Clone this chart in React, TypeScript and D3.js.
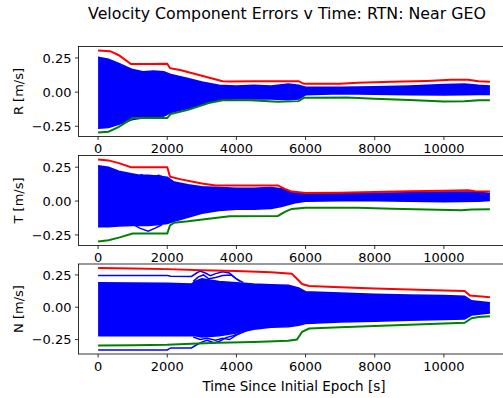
import React from "react";
import * as d3 from "d3";

// ---------- data ----------
const xTicks = [0, 2000, 4000, 6000, 8000, 10000];
const yTicks = [-0.25, 0, 0.25];
const panelLabels = ["R [m/s]", "T [m/s]", "N [m/s]"];

// R component
const rTime = [0, 300, 600, 1000, 1300, 1600, 1900, 2100, 2600, 3000, 3500, 4000, 4500, 5000, 5500, 5800, 6000, 7000, 8000, 9000, 10000, 10600, 11000, 11330];
const rBlueHi = [0.255, 0.24, 0.21, 0.165, 0.15, 0.155, 0.15, 0.13, 0.1, 0.075, 0.05, 0.045, 0.05, 0.045, 0.06, 0.05, 0.035, 0.035, 0.04, 0.045, 0.055, 0.06, 0.05, 0.045];
const rBlueLo = [-0.265, -0.26, -0.235, -0.2, -0.19, -0.18, -0.175, -0.15, -0.12, -0.09, -0.055, -0.05, -0.048, -0.05, -0.055, -0.05, -0.02, -0.012, -0.015, -0.02, -0.022, -0.02, -0.018, -0.017];
const rRed = [[0, 0.304], [350, 0.3], [600, 0.27], [950, 0.205], [1500, 0.205], [2000, 0.207], [2080, 0.175], [2400, 0.16], [3000, 0.12], [3600, 0.08], [3800, 0.077], [4500, 0.08], [5800, 0.08], [5950, 0.061], [7000, 0.062], [7500, 0.068], [8500, 0.075], [9500, 0.082], [10200, 0.09], [10700, 0.09], [11000, 0.08], [11330, 0.076]];
const rGreen = [[0, -0.295], [300, -0.29], [600, -0.255], [1000, -0.19], [2000, -0.19], [2100, -0.16], [2600, -0.13], [3200, -0.08], [3600, -0.06], [4400, -0.06], [5200, -0.07], [5800, -0.066], [5950, -0.042], [7200, -0.04], [8000, -0.048], [9000, -0.058], [10000, -0.068], [10600, -0.066], [11000, -0.06], [11330, -0.06]];
const rOutliers = [
  [[1400, -0.15], [1600, -0.16], [1750, -0.17], [1880, -0.175], [1980, -0.165], [2100, -0.14]],
  [[1100, 0.13], [1240, 0.148], [1400, 0.13], [1600, 0.14], [1800, 0.135], [2000, 0.12]],
];

// T component
const tTime = [0, 300, 600, 1000, 1200, 1450, 1700, 2000, 2200, 2600, 3000, 3500, 4000, 4500, 5000, 5300, 5700, 6000, 7000, 8000, 9000, 10000, 11000, 11330];
const tBlueHi = [0.26, 0.25, 0.22, 0.2, 0.19, 0.19, 0.185, 0.175, 0.14, 0.12, 0.105, 0.1, 0.095, 0.095, 0.1, 0.09, 0.06, 0.055, 0.055, 0.058, 0.062, 0.066, 0.066, 0.056];
const tBlueLo = [-0.19, -0.19, -0.185, -0.18, -0.18, -0.18, -0.175, -0.165, -0.15, -0.12, -0.09, -0.07, -0.06, -0.06, -0.055, -0.04, -0.012, -0.002, 0.002, 0.002, -0.002, -0.006, -0.002, 0.004];
const tRed = [[0, 0.306], [300, 0.3], [600, 0.28], [950, 0.25], [2000, 0.25], [2080, 0.18], [2400, 0.16], [3000, 0.13], [3400, 0.115], [5200, 0.115], [5400, 0.09], [5600, 0.07], [6000, 0.06], [7000, 0.062], [8000, 0.066], [9000, 0.072], [10000, 0.076], [10700, 0.08], [10900, 0.072], [11330, 0.07]];
const tGreen = [[0, -0.298], [300, -0.29], [600, -0.27], [1000, -0.24], [2000, -0.24], [2080, -0.18], [2200, -0.16], [2600, -0.15], [3200, -0.13], [3800, -0.113], [5200, -0.11], [5400, -0.08], [5600, -0.058], [6000, -0.05], [7500, -0.05], [8500, -0.056], [9500, -0.062], [10500, -0.068], [10800, -0.062], [11330, -0.06]];
const tOutliers = [
  [[1000, -0.17], [1200, -0.2], [1450, -0.222], [1650, -0.2], [1850, -0.175]],
  [[1100, 0.17], [1250, 0.195], [1400, 0.175], [1600, 0.18], [1750, 0.19], [1950, 0.17]],
];

// N component
const nTime = [0, 2000, 2700, 2800, 3000, 3500, 4000, 4500, 5000, 5500, 5800, 6000, 7000, 8000, 9000, 10000, 10600, 10800, 11330];
const nBlueHi = [0.19, 0.185, 0.18, 0.2, 0.22, 0.2, 0.19, 0.18, 0.175, 0.17, 0.15, 0.12, 0.11, 0.1, 0.095, 0.09, 0.085, 0.05, 0.035];
const nBlueLo = [-0.22, -0.22, -0.22, -0.22, -0.23, -0.22, -0.2, -0.17, -0.155, -0.15, -0.14, -0.125, -0.115, -0.108, -0.1, -0.095, -0.09, -0.06, -0.045];
const nRed = [[0, 0.303], [1000, 0.3], [2000, 0.295], [3000, 0.287], [4000, 0.28], [5000, 0.27], [5600, 0.26], [5750, 0.22], [5900, 0.18], [6100, 0.165], [7000, 0.155], [8000, 0.145], [9000, 0.137], [10000, 0.13], [10600, 0.125], [10750, 0.09], [11000, 0.085], [11330, 0.078]];
const nGreen = [[0, -0.295], [1000, -0.293], [2000, -0.29], [2700, -0.283], [3500, -0.275], [4500, -0.268], [5500, -0.26], [5750, -0.25], [5900, -0.19], [6100, -0.165], [7000, -0.155], [8000, -0.145], [9000, -0.135], [10000, -0.125], [10600, -0.12], [10800, -0.085], [11000, -0.075], [11330, -0.07]];
const nOutliers = [
  [[0, 0.245], [2000, 0.245], [2100, 0.24], [2700, 0.238], [2850, 0.265], [2950, 0.28], [3100, 0.265], [3250, 0.245], [3400, 0.26], [3600, 0.275], [3800, 0.265], [3950, 0.23], [4100, 0.2]],
  [[2750, 0.2], [2900, 0.235], [3050, 0.25], [3200, 0.22], [3400, 0.23], [3600, 0.245], [3850, 0.25], [4000, 0.22], [4200, 0.19]],
  [[0, -0.33], [2000, -0.33], [2100, -0.315], [2700, -0.315], [2850, -0.29], [3000, -0.27], [3150, -0.255], [3350, -0.275], [3500, -0.265], [3700, -0.235], [3900, -0.22], [4100, -0.2]],
  [[2750, -0.23], [2950, -0.25], [3150, -0.24], [3400, -0.255], [3600, -0.24], [3800, -0.25], [4000, -0.215], [4300, -0.18]],
];

// ---------- layout ----------
const W = 503;
const H = 398;
const axLeft = 78.5;
const axRight = 509.5;
const panelTops = [46.5, 155.5, 264];
const panelH = 90;
const FONT = "DejaVu Sans, sans-serif";

const panels = [
  { label: panelLabels[0], time: rTime, hi: rBlueHi, lo: rBlueLo, red: rRed, green: rGreen, outliers: rOutliers },
  { label: panelLabels[1], time: tTime, hi: tBlueHi, lo: tBlueLo, red: tRed, green: tGreen, outliers: tOutliers },
  { label: panelLabels[2], time: nTime, hi: nBlueHi, lo: nBlueLo, red: nRed, green: nGreen, outliers: nOutliers },
];

const tMax = d3.max(panels, (p) => d3.max(p.time)) as number;
const xPad = tMax * 0.05;
const x = d3.scaleLinear().domain([-xPad, tMax + xPad]).range([axLeft, axRight]);

const fmtY = (v: number) => (v < 0 ? "\u2212" : "") + Math.abs(v).toFixed(2);

function Panel({ p, top }: any) {
  const all: number[] = [
    ...p.hi, ...p.lo,
    ...p.red.map((d: number[]) => d[1]),
    ...p.green.map((d: number[]) => d[1]),
    ...p.outliers.flat().map((d: number[]) => d[1]),
  ];
  const lo = d3.min(all) as number;
  const hi = d3.max(all) as number;
  const pad = (hi - lo) * 0.05;
  const y = d3.scaleLinear().domain([lo - pad, hi + pad]).range([top + panelH, top]);

  const band = d3.area<number>()
    .x((_, i) => x(p.time[i]))
    .y0((_, i) => y(p.lo[i]))
    .y1((_, i) => y(p.hi[i]));
  const edgeHi = d3.line<number>().x((_, i) => x(p.time[i])).y((_, i) => y(p.hi[i]));
  const edgeLo = d3.line<number>().x((_, i) => x(p.time[i])).y((_, i) => y(p.lo[i]));
  const line = d3.line<number[]>().x((d) => x(d[0])).y((d) => y(d[1]));
  const clipId = "clip" + Math.round(top);
  const bottom = top + panelH;

  return (
    <g>
      <defs>
        <clipPath id={clipId}>
          <rect x={axLeft} y={top} width={axRight - axLeft} height={panelH} />
        </clipPath>
      </defs>
      <g clipPath={`url(#${clipId})`}>
        <path d={band(p.hi) as string} fill="#0000ff" stroke="none" />
        <path d={edgeHi(p.hi) as string} fill="none" stroke="#0000ff" strokeWidth={1.5} />
        <path d={edgeLo(p.lo) as string} fill="none" stroke="#0000ff" strokeWidth={1.5} />
        {p.outliers.map((o: number[][], i: number) => (
          <path key={i} d={line(o) as string} fill="none" stroke="#0000ff" strokeWidth={1.5} />
        ))}
        <path d={line(p.red) as string} fill="none" stroke="#ff0000" strokeWidth={2} />
        <path d={line(p.green) as string} fill="none" stroke="#008000" strokeWidth={2} />
      </g>
      <rect x={axLeft} y={top} width={axRight - axLeft} height={panelH} fill="none" stroke="#000" strokeWidth={0.8} />
      {yTicks.map((t) => (
        <g key={t}>
          <line x1={axLeft - 3.5} x2={axLeft} y1={y(t)} y2={y(t)} stroke="#000" strokeWidth={0.8} />
          <text x={axLeft - 7} y={y(t)} dy="0.36em" textAnchor="end" fontSize={13} fontFamily={FONT} fill="#000">
            {fmtY(t)}
          </text>
        </g>
      ))}
      {xTicks.map((t) => (
        <g key={t}>
          <line x1={x(t)} x2={x(t)} y1={bottom} y2={bottom + 3.5} stroke="#000" strokeWidth={0.8} />
          <text x={x(t)} y={bottom + 7} dy="0.76em" textAnchor="middle" fontSize={13} fontFamily={FONT} fill="#000">
            {t}
          </text>
        </g>
      ))}
      <text
        transform={`translate(${18},${top + panelH / 2}) rotate(-90)`}
        dy="0.36em"
        textAnchor="middle"
        fontSize={13}
        fontFamily={FONT}
        fill="#000"
      >
        {p.label}
      </text>
    </g>
  );
}

export default function App() {
  return (
    <svg width={W} height={H} style={{ display: "block", position: "absolute", left: 0, top: 0, background: "#fff" }}>
      <rect width={W} height={H} fill="#fff" />
      {panels.map((p, i) => (
        <Panel key={i} p={p} top={panelTops[i]} />
      ))}
      <text x={287} y={18.5} textAnchor="middle" fontSize={15.8} fontFamily={FONT} fill="#000">
        Velocity Component Errors v Time: RTN: Near GEO
      </text>
      <text x={(axLeft + axRight) / 2} y={391} textAnchor="middle" fontSize={13.5} fontFamily={FONT} fill="#000">
        Time Since Initial Epoch [s]
      </text>
    </svg>
  );
}
